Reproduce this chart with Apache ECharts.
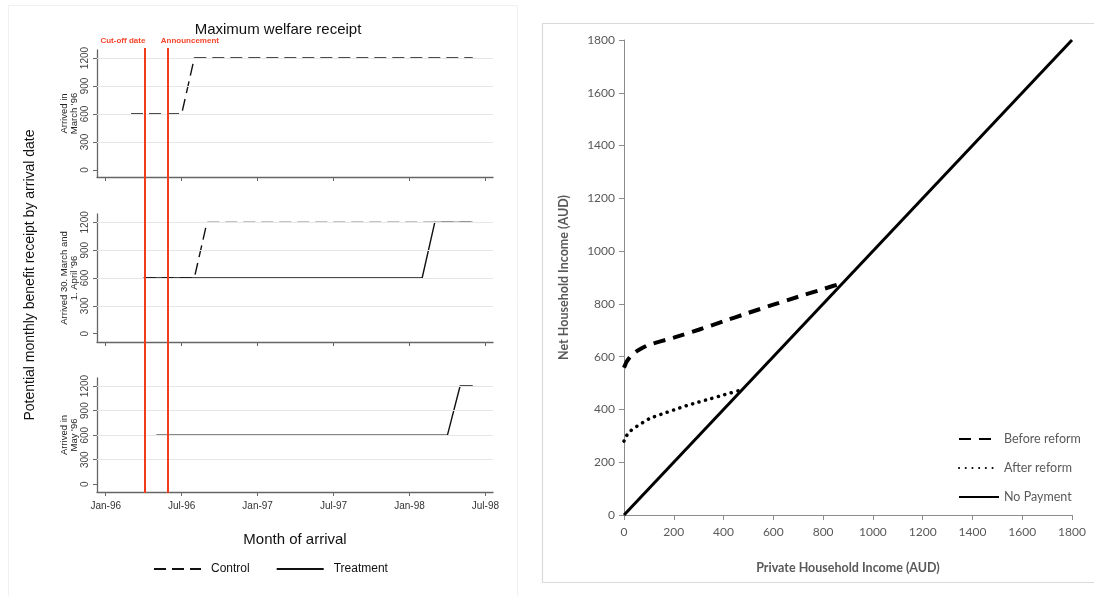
<!DOCTYPE html>
<html><head><meta charset="utf-8">
<script src="https://cdn.jsdelivr.net/npm/echarts@6/dist/echarts.min.js"></script>
<style>html,body{margin:0;padding:0;background:#fff}#c{width:1094px;height:596px}</style>
</head><body><div id="c"></div>
<script>
// ---------- Left panel data (months since Jan-96) ----------
const monthTicks = [0, 6, 12, 18, 24, 30];
const monthTickLabels = ['Jan-96', 'Jul-96', 'Jan-97', 'Jul-97', 'Jan-98', 'Jul-98'];
const benefitTicks = [0, 300, 600, 900, 1200];
const gridValues = [300, 600, 900, 1200];
const panelNames = ["Arrived in\nMarch '96", "Arrived 30. March and\n1. April '96", "Arrived in\nMay '96"];

const controlMarchX = [2, 6, 7, 29];
const controlMarchY = [600, 600, 1200, 1200];
const controlAprilX = [3, 7, 8, 29];
const controlAprilY = [600, 600, 1200, 1200];
const treatAprilX = [3, 25, 26, 29];
const treatAprilY = [600, 600, 1200, 1200];
const treatMayX = [4, 27, 28, 29];
const treatMayY = [600, 600, 1200, 1200];

const eventMonths = [3.05, 4.9];
const eventNames = ['Cut-off date', 'Announcement'];

// ---------- Right panel data (AUD) ----------
const incomeTicks = [0, 200, 400, 600, 800, 1000, 1200, 1400, 1600, 1800];
const beforeX = [0, 10, 25, 50, 100, 200, 300, 400, 500, 600, 700, 800, 880];
const beforeY = [558, 580, 600, 620, 645, 672, 702, 734, 766, 797, 827, 856, 880];
const afterX = [0, 10, 25, 50, 100, 150, 200, 250, 300, 350, 400, 475];
const afterY = [280, 300, 318, 335, 364, 382, 398, 414, 428, 441, 455, 475];
const noPayX = [0, 1800];
const noPayY = [0, 1800];

const zip = (xs, ys) => xs.map((x, i) => [x, ys[i]]);

const F = 'Liberation Sans, Arial, sans-serif';
const FR = 'Lato, Open Sans, sans-serif';

const leftGrids = [
  {left: 97, width: 396, top: 50, height: 127, min: -75, max: 1286},
  {left: 97, width: 396, top: 214, height: 128, min: -90, max: 1290},
  {left: 97, width: 396, top: 378, height: 114, min: -94, max: 1298}
];

const grids = [], xAxes = [], yAxes = [], series = [];
leftGrids.forEach((g, i) => {
  grids.push({left: g.left, width: g.width, top: g.top, height: g.height, containLabel: false});
  xAxes.push({
    type: 'value', gridIndex: i, min: -0.69, max: 30.6,
    axisLine: {show: true, onZero: false, lineStyle: {color: '#666', width: 1.3}},
    axisTick: {show: true, customValues: monthTicks, length: 4, lineStyle: {color: '#666'}},
    axisLabel: {show: i === 2, customValues: monthTicks, margin: 9,
      formatter: v => monthTickLabels[monthTicks.indexOf(v)] || '',
      fontFamily: F, fontSize: 10, color: '#333'},
    splitLine: {show: false},
    name: i === 2 ? 'Month of arrival' : '', nameLocation: 'middle', nameGap: 40,
    nameTextStyle: {fontFamily: F, fontSize: 15, color: '#111'}
  });
  yAxes.push({
    type: 'value', gridIndex: i, min: g.min, max: g.max,
    axisLine: {show: true, onZero: false, lineStyle: {color: '#666', width: 1.3}},
    axisTick: {show: true, customValues: benefitTicks, length: 4, lineStyle: {color: '#666'}},
    axisLabel: {customValues: benefitTicks, rotate: 90, margin: 7, fontFamily: F, fontSize: 10, color: '#444',
      formatter: v => String(v)},
    splitLine: {show: false},
    name: panelNames[i], nameLocation: 'middle', nameRotate: 90, nameGap: 17,
    nameTextStyle: {fontFamily: F, fontSize: 9.5, color: '#222', lineHeight: 10}
  });
  // grid lines
  series.push({
    type: 'line', xAxisIndex: i, yAxisIndex: i, data: [], silent: true,
    markLine: {silent: true, symbol: 'none', label: {show: false},
      lineStyle: {color: '#e6e6e6', type: 'solid', width: 1},
      data: gridValues.map(v => ({yAxis: v}))}
  });
});

const ctrlStyle = {color: '#111', width: 1.4, type: [12, 6]};
const trtStyle = {color: '#111', width: 1.4, type: 'solid'};
function lineSeries(name, idx, data, style, z) {
  return {name, type: 'line', xAxisIndex: idx, yAxisIndex: idx, data, symbol: 'none',
    lineStyle: style, itemStyle: {color: style.color}, z: z || 3, animation: false};
}
series.push(lineSeries('Control', 0, zip(controlMarchX, controlMarchY), ctrlStyle, 4));
series.push(lineSeries('Treatment', 1, zip(treatAprilX, treatAprilY), trtStyle, 3));
series.push(lineSeries('Control', 1, zip(controlAprilX, controlAprilY), ctrlStyle, 4));
series.push(lineSeries('Treatment', 2, zip(treatMayX, treatMayY), trtStyle, 3));

// overlay grid for red event lines
grids.push({left: 97, width: 396, top: 48, height: 445});
xAxes.push({type: 'value', gridIndex: 3, min: -0.69, max: 30.6, show: false});
yAxes.push({type: 'value', gridIndex: 3, min: 0, max: 1, show: false});
series.push({
  type: 'line', xAxisIndex: 3, yAxisIndex: 3, data: [], silent: true, z: 10,
  markLine: {silent: true, symbol: 'none', animation: false,
    lineStyle: {color: '#f23a1d', width: 2, type: 'solid'},
    label: {show: true, position: 'end', formatter: '{b}', color: '#f5452a',
      fontFamily: F, fontSize: 8, fontWeight: 'bold', distance: 3},
    data: [
      {xAxis: eventMonths[0], name: eventNames[0], label: {align: 'right', offset: [1, 0]}},
      {xAxis: eventMonths[1], name: eventNames[1], label: {align: 'left', offset: [-7, 0]}}
    ]}
});

// ---------- Right panel ----------
grids.push({left: 624, right: 22, top: 40, bottom: 81});
const axisGrey = '#8c8c8c';
xAxes.push({
  type: 'value', gridIndex: 4, min: 0, max: 1800, interval: 200,
  axisLine: {show: true, lineStyle: {color: axisGrey}},
  axisTick: {show: true, length: 5, lineStyle: {color: axisGrey}},
  axisLabel: {fontFamily: FR, fontSize: 12, color: '#595959', margin: 11, formatter: v => String(v)},
  splitLine: {show: false},
  name: 'Private Household Income (AUD)', nameLocation: 'middle', nameGap: 46,
  nameTextStyle: {fontFamily: FR, fontSize: 12.5, fontWeight: 'bold', color: '#595959'}
});
yAxes.push({
  type: 'value', gridIndex: 4, min: 0, max: 1800, interval: 200,
  axisLine: {show: true, lineStyle: {color: axisGrey}},
  axisTick: {show: true, length: 5, lineStyle: {color: axisGrey}},
  axisLabel: {fontFamily: FR, fontSize: 12, color: '#595959', margin: 9, formatter: v => String(v)},
  splitLine: {show: false},
  name: 'Net Household Income (AUD)', nameLocation: 'middle', nameGap: 54,
  nameTextStyle: {fontFamily: FR, fontSize: 12.5, fontWeight: 'bold', color: '#595959'}
});
series.push({name: 'No Payment', type: 'line', xAxisIndex: 4, yAxisIndex: 4, symbol: 'none',
  data: zip(noPayX, noPayY), lineStyle: {color: '#000', width: 3}, itemStyle: {color: '#000'}, z: 3});
series.push({name: 'Before reform', type: 'line', xAxisIndex: 4, yAxisIndex: 4, symbol: 'none', smooth: 0.15,
  data: zip(beforeX, beforeY), lineStyle: {color: '#000', width: 4, type: [12, 8]}, itemStyle: {color: '#000'}, z: 4});
series.push({name: 'After reform', type: 'line', xAxisIndex: 4, yAxisIndex: 4, symbol: 'none', smooth: 0.2,
  data: zip(afterX, afterY), lineStyle: {color: '#000', width: 3.5, type: [0.1, 6.6], cap: 'round'}, itemStyle: {color: '#000'}, z: 4});

const chart = echarts.init(document.getElementById('c'), null, {renderer: 'canvas'});
chart.setOption({
  animation: false,
  backgroundColor: '#fff',
  title: [{text: 'Maximum welfare receipt', left: 273, top: 17, textAlign: 'center',
    textStyle: {fontFamily: F, fontSize: 15, fontWeight: 'normal', color: '#111'}}],
  grid: grids, xAxis: xAxes, yAxis: yAxes, series,
  legend: [
    {data: ['Control', 'Treatment'], left: 153, top: 563, orient: 'horizontal', padding: 0,
      itemWidth: 47, itemHeight: 12, itemGap: 26, itemStyle: {opacity: 0},
      textStyle: {fontFamily: F, fontSize: 12, color: '#111', padding: [0, 0, 0, 5]}},
    {data: ['Before reform', 'After reform', 'No Payment'], left: 958, top: 432, orient: 'vertical', padding: 0,
      itemWidth: 40, itemHeight: 14, itemGap: 15, itemStyle: {opacity: 0},
      textStyle: {fontFamily: FR, fontSize: 12.5, color: '#595959', lineHeight: 14, padding: [0, 0, 0, 0]}}
  ],
  graphic: [
    {type: 'rect', shape: {x: 8.5, y: 5.5, width: 509, height: 600}, style: {fill: 'none', stroke: '#f0f0f0', lineWidth: 1}, silent: true},
    {type: 'rect', shape: {x: 542.5, y: 23.5, width: 600, height: 559}, style: {fill: 'none', stroke: '#d9d9d9', lineWidth: 1.2}, silent: true},
    {type: 'text', x: 30, y: 275, rotation: Math.PI / 2,
      style: {text: 'Potential monthly benefit receipt by arrival date', fontFamily: F, fontSize: 14, fill: '#111',
        textAlign: 'center', textVerticalAlign: 'middle'}, silent: true}
  ]
});
</script></body></html>
